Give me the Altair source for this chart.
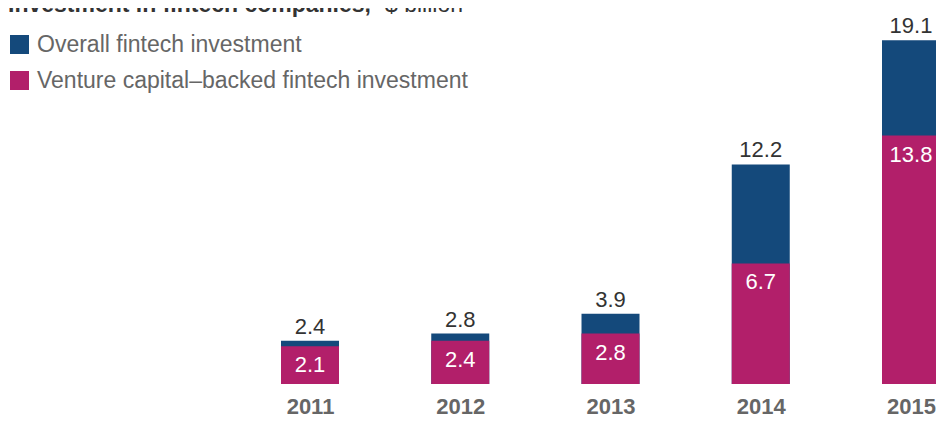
import altair as alt
import pandas as pd

years = [2011, 2012, 2013, 2014, 2015]
overall = [2.4, 2.8, 3.9, 12.2, 19.1]
venture = [2.1, 2.4, 2.8, 6.7, 13.8]
series_names = ["Overall fintech investment", "Venture capital\u2013backed fintech investment"]
colors = ["#14497B", "#B21F6A"]
title_bold = "Investment in fintech companies,"
title_sup = "1"
title_rest = "$ billion"

FONT = "Liberation Sans"

rows = []
for y, o, v in zip(years, overall, venture):
    rows.append({"year": y, "series": series_names[0], "value": o})
    rows.append({"year": y, "series": series_names[1], "value": v})
df = pd.DataFrame(rows)

xscale = alt.Scale(domain=[2008.99, 2015.2196], nice=False, zero=False, padding=0)
yscale = alt.Scale(domain=[0, 384 / 18], nice=False, zero=True, padding=0)
cscale = alt.Scale(domain=series_names, range=colors)

base = alt.Chart(df).encode(
    x=alt.X("year:Q", scale=xscale,
            axis=alt.Axis(values=years, format="d", title=None, domain=False, ticks=False,
                          tickSize=0, grid=False, labelFontSize=22, labelFontWeight="bold",
                          labelColor="#666666", labelFont=FONT, labelPadding=29,
                          labelBaseline="alphabetic")),
    y=alt.Y("value:Q", scale=yscale, axis=None),
)

bars_overall = base.transform_filter(alt.datum.series == series_names[0]).mark_bar(size=58).encode(
    color=alt.Color("series:N", scale=cscale, title=None,
                    legend=alt.Legend(orient="none", legendX=0, legendY=33, direction="vertical",
                                      symbolType="square", symbolSize=361, symbolStrokeWidth=0,
                                      symbolOpacity=1, labelFontSize=23, labelFont=FONT,
                                      labelColor="#666666", rowPadding=12, labelOffset=6,
                                      padding=0, labelLimit=600))
)
bars_vc = base.transform_filter(alt.datum.series == series_names[1]).mark_bar(size=58).encode(
    color=alt.Color("series:N", scale=cscale)
)
text_total = base.transform_filter(alt.datum.series == series_names[0]).mark_text(
    baseline="alphabetic", dy=-7, fontSize=22, font=FONT, color="#333333"
).encode(text=alt.Text("value:Q", format=".1f"))
text_vc = base.transform_filter(alt.datum.series == series_names[1]).mark_text(
    baseline="alphabetic", dy=26, fontSize=22, font=FONT, color="#FFFFFF"
).encode(text=alt.Text("value:Q", format=".1f"))

tdf = pd.DataFrame({"t": [title_bold], "s": [title_sup], "r": [title_rest]})
t1 = alt.Chart(tdf).mark_text(align="left", baseline="alphabetic", fontSize=23, fontWeight="bold",
                              font=FONT, color="#333333").encode(
    text="t:N", x=alt.value(0), y=alt.value(12))
t2 = alt.Chart(tdf).mark_text(align="left", baseline="alphabetic", fontSize=13,
                              font=FONT, color="#333333").encode(
    text="s:N", x=alt.value(362), y=alt.value(4))
t3 = alt.Chart(tdf).mark_text(align="left", baseline="alphabetic", fontSize=23,
                              font=FONT, color="#333333").encode(
    text="r:N", x=alt.value(377), y=alt.value(12))

chart = alt.layer(bars_overall, bars_vc, text_total, text_vc, t1, t2, t3).properties(
    width=936, height=384,
    autosize=alt.AutoSizeParams(type="none"),
    padding={"left": 0, "top": -8, "right": -8, "bottom": 34},
).configure_view(strokeWidth=0)

chart.save("out.html", embed_options={"renderer": "svg", "actions": False})
